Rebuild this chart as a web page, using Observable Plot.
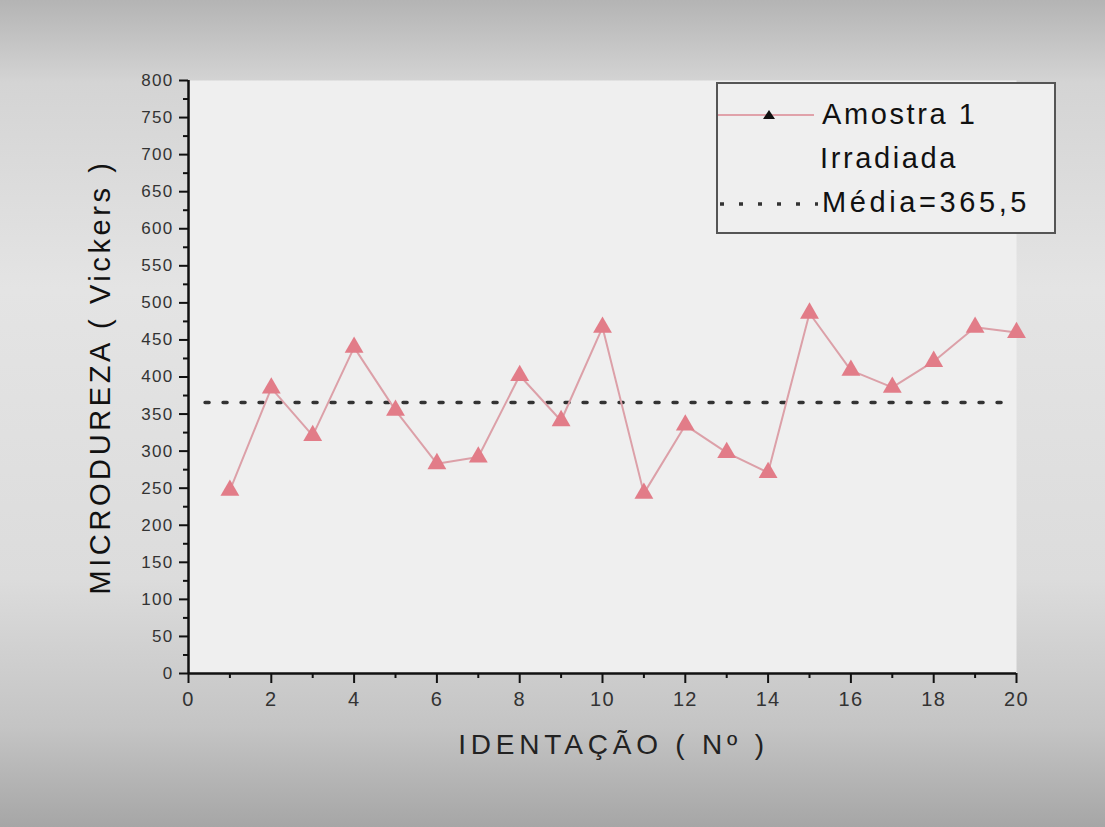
<!DOCTYPE html>
<html>
<head>
<meta charset="utf-8">
<script src="https://cdn.jsdelivr.net/npm/d3@7"></script>
<script src="https://cdn.jsdelivr.net/npm/@observablehq/plot@0.6"></script>
<style>
  html, body { margin: 0; padding: 0; }
  body {
    width: 1105px; height: 827px; overflow: hidden; position: relative;
    background: linear-gradient(180deg, #b4b4b4 0%, #d4d4d4 10%, #e4e4e4 35%, #dcdcdc 70%, #c4c4c4 88%, #a6a6a6 100%);
    font-family: "Liberation Sans", Arial, sans-serif;
  }
  #chart { position: absolute; left: 0; top: 0; }
  #legend {
    position: absolute; left: 716px; top: 82px; width: 340px; height: 152px;
    border: 2px solid #555; background: #efefef; box-sizing: border-box;
    font-size: 29px; letter-spacing: 2.6px; color: #111;
  }
  .row { position: absolute; left: 0; display: flex; align-items: center; white-space: nowrap; }
</style>
</head>
<body>
<div id="chart"></div>
<div id="legend">
  <div class="row" style="top:14px;">
    <svg width="104" height="30"><line x1="0" y1="15" x2="96" y2="15" stroke="#e0a2aa" stroke-width="2"/><path d="M51,10 L57,19 L45,19 Z" fill="#111"/></svg>
    <span>Amostra 1</span>
  </div>
  <div class="row" style="top:58px; left:102px;"><span>Irradiada</span></div>
  <div class="row" style="top:102px;">
    <svg width="104" height="30"><line x1="2" y1="16" x2="100" y2="16" stroke="#333" stroke-width="3.5" stroke-dasharray="4,15"/></svg>
    <span style="letter-spacing:3.6px">Média=365,5</span>
  </div>
</div>
<script>
const indentacao = [1,2,3,4,5,6,7,8,9,10,11,12,13,14,15,16,17,18,19,20];
const microdureza = [247,385,321,440,355,283,292,402,341,467,243,335,298,271,486,409,386,421,467,460];
const media = 365.5;
const mediaX = [0.4, 19.7];
const xTicks = [0,2,4,6,8,10,12,14,16,18,20];
const xMinor = [1,3,5,7,9,11,13,15,17,19];
const yTicks = [0,50,100,150,200,250,300,350,400,450,500,550,600,650,700,750,800];
const yMinor = [25,75,125,175,225,275,325,375,425,475,525,575,625,675,725,775];
const yTitle = "MICRODUREZA ( Vickers )";
const xTitle = "IDENTAÇÃO ( Nº )";

const data = indentacao.map((x, i) => ({x, y: microdureza[i]}));
const mediaData = mediaX.map(x => ({x, y: media}));

const chart = Plot.plot({
  width: 1105,
  height: 827,
  marginLeft: 188,
  marginRight: 89,
  marginTop: 80,
  marginBottom: 154,
  style: { background: "transparent", fontFamily: "Liberation Sans, Arial, sans-serif" },
  x: { domain: [0, 20] },
  y: { domain: [0, 800] },
  marks: [
    Plot.frame({ fill: "#efefef", stroke: "none" }),
    Plot.axisY({ ticks: yMinor, tickSize: 5, tickFormat: () => "", strokeWidth: 2, stroke: "#111", label: null }),
    Plot.axisY({ ticks: yTicks, tickSize: 9, tickPadding: 6, strokeWidth: 2, stroke: "#111", fontSize: 17, fill: "#333", label: null }),
    Plot.axisX({ ticks: xMinor, tickSize: 5, tickFormat: () => "", strokeWidth: 2, stroke: "#111", label: null }),
    Plot.axisX({ ticks: xTicks, tickSize: 10, tickPadding: 8, strokeWidth: 2, stroke: "#111", fontSize: 20, fill: "#333", label: null }),
    Plot.ruleX([0], { stroke: "#111", strokeWidth: 2.5 }),
    Plot.ruleY([0], { stroke: "#111", strokeWidth: 2.5 }),
    Plot.line(mediaData, { x: "x", y: "y", stroke: "#333", strokeWidth: 3.5, strokeDasharray: "4,14" }),
    Plot.line(data, { x: "x", y: "y", stroke: "#dca0a8", strokeWidth: 2 }),
    Plot.dot(data, { x: "x", y: "y", symbol: "triangle", r: 7, fill: "#e27c88", stroke: "none" }),
    Plot.text([yTitle], { frameAnchor: "left", textAnchor: "middle", dx: -88, rotate: -90, fontSize: 29, fill: "#111" }),
    Plot.text([xTitle], { frameAnchor: "bottom", textAnchor: "middle", dx: 11, dy: 80, fontSize: 28, fill: "#222" })
  ]
});
document.getElementById("chart").appendChild(chart);

d3.select(chart).selectAll("text").each(function () {
  const t = this.textContent;
  const s = d3.select(this);
  if (t === yTitle) s.style("letter-spacing", "3.6px");
  else if (t === xTitle) s.style("letter-spacing", "4.8px");
  else if (/^\d+$/.test(t)) s.style("letter-spacing", "1.3px");
});
</script>
</body>
</html>
